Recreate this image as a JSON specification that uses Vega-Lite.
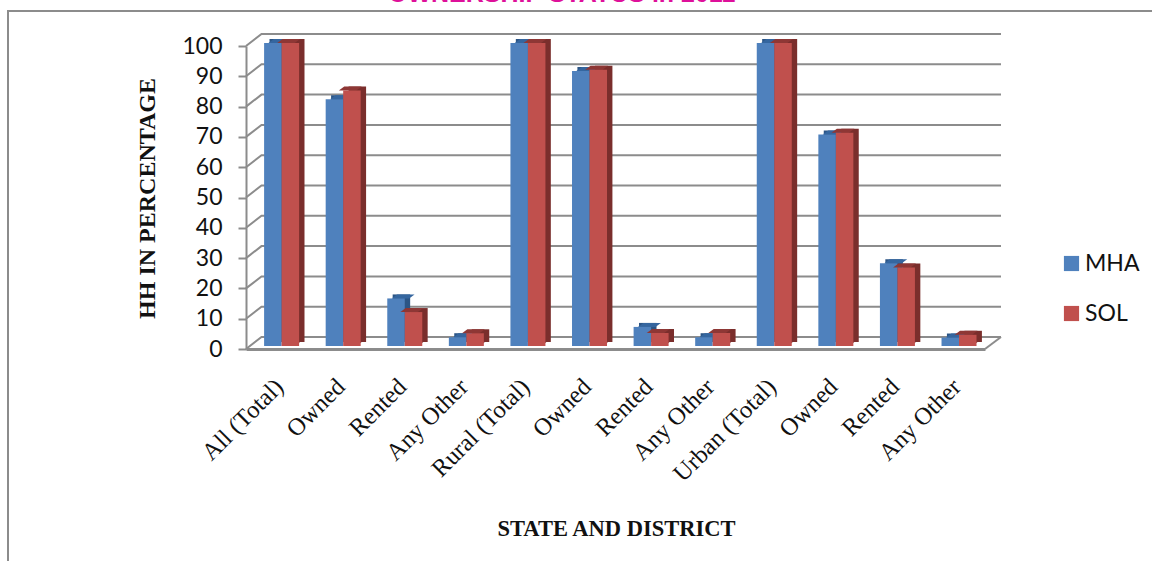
{
  "$schema": "https://vega.github.io/schema/vega-lite/v6.json",
  "autosize": {"type": "none"},
  "padding": {"left": 8, "top": 11, "right": 0, "bottom": 0},
  "width": 1146,
  "height": 552,
  "background": "white",
  "title": {
    "text": "OWNERSHIP STATUS in 2011",
    "anchor": "start",
    "dx": 380,
    "offset": 4,
    "font": "Liberation Sans",
    "fontSize": 25,
    "fontWeight": "bold",
    "color": "#DE109A"
  },
  "config": {
    "view": {"stroke": "#8C8C8C", "strokeWidth": 2}
  },
  "datasets": {
    "bars": [
      {"slot": "a1|All (Total)", "series": "MHA", "value": 100},
      {"slot": "a1|All (Total)", "series": "SOL", "value": 100},
      {"slot": "a2|Owned", "series": "MHA", "value": 81.4},
      {"slot": "a2|Owned", "series": "SOL", "value": 84.3},
      {"slot": "a3|Rented", "series": "MHA", "value": 15.7},
      {"slot": "a3|Rented", "series": "SOL", "value": 11.2},
      {"slot": "a4|Any Other", "series": "MHA", "value": 2.9},
      {"slot": "a4|Any Other", "series": "SOL", "value": 4.2},
      {"slot": "r1|Rural (Total)", "series": "MHA", "value": 100},
      {"slot": "r1|Rural (Total)", "series": "SOL", "value": 100},
      {"slot": "r2|Owned", "series": "MHA", "value": 90.8},
      {"slot": "r2|Owned", "series": "SOL", "value": 91.2},
      {"slot": "r3|Rented", "series": "MHA", "value": 6.3},
      {"slot": "r3|Rented", "series": "SOL", "value": 4.3},
      {"slot": "r4|Any Other", "series": "MHA", "value": 2.9},
      {"slot": "r4|Any Other", "series": "SOL", "value": 4.3},
      {"slot": "u1|Urban (Total)", "series": "MHA", "value": 100},
      {"slot": "u1|Urban (Total)", "series": "SOL", "value": 100},
      {"slot": "u2|Owned", "series": "MHA", "value": 69.8},
      {"slot": "u2|Owned", "series": "SOL", "value": 70.4},
      {"slot": "u3|Rented", "series": "MHA", "value": 27.3},
      {"slot": "u3|Rented", "series": "SOL", "value": 25.9},
      {"slot": "u4|Any Other", "series": "MHA", "value": 2.8},
      {"slot": "u4|Any Other", "series": "SOL", "value": 3.7}
    ],
    "levels": [
      {"level": 0}, {"level": 10}, {"level": 20}, {"level": 30}, {"level": 40}, {"level": 50},
      {"level": 60}, {"level": 70}, {"level": 80}, {"level": 90}, {"level": 100}
    ]
  },
  "resolve": {"scale": {"x": "shared", "y": "shared", "xOffset": "independent", "color": "shared"}},
  "layer": [
    {
      "data": {"name": "levels"},
      "mark": {"type": "point", "filled": false, "size": 400, "opacity": 1, "strokeWidth": 2, "stroke": "#8C8C8C",
        "shape": "M0 0L1.55 -1.2L75.5 -1.2"},
      "encoding": {
        "x": {"datum": "a1|All (Total)", "bandPosition": 0, "type": "nominal",
          "scale": {
            "domain": ["a1|All (Total)", "a2|Owned", "a3|Rented", "a4|Any Other", "r1|Rural (Total)", "r2|Owned", "r3|Rented", "r4|Any Other", "u1|Urban (Total)", "u2|Owned", "u3|Rented", "u4|Any Other"],
            "range": [238, 977],
            "paddingInner": 0,
            "paddingOuter": 0
          },
          "axis": {
            "orient": "bottom",
            "offset": -214,
            "title": "STATE AND DISTRICT",
            "titleFont": "Liberation Serif",
            "titleFontSize": 22.5,
            "titleFontWeight": "bold",
            "titleColor": "#111111",
            "titleX": 608,
            "titleY": 168,
            "labelExpr": "split(datum.label, '|')[1]",
            "labelAngle": -45,
            "labelAlign": "right",
            "labelBaseline": "middle",
            "labelFont": "Liberation Serif",
            "labelFontSize": 24.5,
            "labelColor": "#111111",
            "labelPadding": 34,
            "labelOffset": 3,
            "labelOverlap": false,
            "ticks": false,
            "grid": false,
            "domainColor": "#8C8C8C",
            "domainWidth": 3
          }
        },
        "y": {"field": "level", "type": "quantitative",
          "scale": {"domain": [0, 100], "range": [338, 35], "nice": false},
          "axis": {
            "orient": "left",
            "offset": -238,
            "values": [0, 10, 20, 30, 40, 50, 60, 70, 80, 90, 100],
            "title": "HH IN PERCENTAGE",
            "titleFont": "Liberation Serif",
            "titleFontSize": 24,
            "titleFontWeight": "bold",
            "titleColor": "#111111",
            "titleX": -87,
            "titleY": 187,
            "labelFont": "Lato",
            "labelFontSize": 23,
            "labelColor": "#111111",
            "labelPadding": 16,
            "tickSize": 8,
            "tickColor": "#8C8C8C",
            "tickWidth": 2,
            "domainColor": "#8C8C8C",
            "domainWidth": 2,
            "grid": false
          }
        }
      }
    },
    {
      "data": {"name": "levels"},
      "transform": [{"filter": "datum.level === 0"}],
      "mark": {"type": "point", "filled": false, "size": 400, "opacity": 1, "strokeWidth": 2, "stroke": "#8C8C8C",
        "shape": "M0 0L1.6 -1.2"},
      "encoding": {
        "x": {"datum": "u4|Any Other", "bandPosition": 1, "type": "nominal"},
        "y": {"field": "level", "type": "quantitative"}
      }
    },
    {
      "data": {"name": "bars"},
      "transform": [{"filter": "datum.series === 'MHA'"}],
      "encoding": {
        "x": {"field": "slot", "type": "nominal"},
        "y": {"field": "value", "type": "quantitative"}
      },
      "layer": [
        {"mark": {"type": "bar", "fill": "#2C5585", "yOffset": -7},
          "encoding": {"xOffset": {"field": "series", "type": "nominal",
            "scale": {"domain": ["MHA", "SOL"], "range": [23.5, 58.5], "paddingInner": 0, "paddingOuter": 0}}}},
        {"mark": {"type": "point", "filled": true, "size": 400, "opacity": 1, "fill": "#2C5585", "yOffset": -3,
          "shape": "M0.875 0L1.415 -0.4L0.875 -0.4Z"},
          "encoding": {
            "y": {"datum": 0, "type": "quantitative"},
            "xOffset": {"field": "series", "type": "nominal",
            "scale": {"domain": ["MHA", "SOL"], "range": [26.85, 44.35]}}}},
        {"mark": {"type": "point", "filled": true, "size": 400, "opacity": 1, "fill": "#35669F", "yOffset": -3,
          "shape": "M-0.875 0L0.875 0L1.415 -0.4L-0.335 -0.4Z"},
          "encoding": {"xOffset": {"field": "series", "type": "nominal",
            "scale": {"domain": ["MHA", "SOL"], "range": [26.85, 44.35]}}}},
        {"mark": {"type": "bar", "yOffset": -3},
          "encoding": {
            "xOffset": {"field": "series", "type": "nominal",
              "scale": {"domain": ["MHA", "SOL"], "range": [18.1, 53.1], "paddingInner": 0, "paddingOuter": 0}},
            "color": {"field": "series", "type": "nominal",
            "scale": {"domain": ["MHA", "SOL"], "range": ["#4F81BD", "#C0504D"]},
            "legend": {
              "orient": "none", "legendX": 1052, "legendY": 241, "title": null,
              "symbolType": "square", "symbolSize": 230, "symbolStrokeWidth": 0,
              "labelFont": "Lato", "labelFontSize": 23, "labelColor": "#111111",
              "labelOffset": 2, "rowPadding": 26
            }}}}
      ],
      "resolve": {"scale": {"xOffset": "independent"}}
    },
    {
      "data": {"name": "bars"},
      "transform": [{"filter": "datum.series === 'SOL'"}],
      "encoding": {
        "x": {"field": "slot", "type": "nominal"},
        "y": {"field": "value", "type": "quantitative"}
      },
      "layer": [
        {"mark": {"type": "bar", "fill": "#7A2E2C", "yOffset": -7},
          "encoding": {"xOffset": {"field": "series", "type": "nominal",
            "scale": {"domain": ["MHA", "SOL"], "range": [23.5, 58.5], "paddingInner": 0, "paddingOuter": 0}}}},
        {"mark": {"type": "point", "filled": true, "size": 400, "opacity": 1, "fill": "#7A2E2C", "yOffset": -3,
          "shape": "M0.875 0L1.415 -0.4L0.875 -0.4Z"},
          "encoding": {
            "y": {"datum": 0, "type": "quantitative"},
            "xOffset": {"field": "series", "type": "nominal",
            "scale": {"domain": ["MHA", "SOL"], "range": [26.85, 44.35]}}}},
        {"mark": {"type": "point", "filled": true, "size": 400, "opacity": 1, "fill": "#8E3735", "yOffset": -3,
          "shape": "M-0.875 0L0.875 0L1.415 -0.4L-0.335 -0.4Z"},
          "encoding": {"xOffset": {"field": "series", "type": "nominal",
            "scale": {"domain": ["MHA", "SOL"], "range": [26.85, 44.35]}}}},
        {"mark": {"type": "bar", "yOffset": -3},
          "encoding": {
            "xOffset": {"field": "series", "type": "nominal",
              "scale": {"domain": ["MHA", "SOL"], "range": [18.1, 53.1], "paddingInner": 0, "paddingOuter": 0}},
            "color": {"field": "series", "type": "nominal"}}}
      ],
      "resolve": {"scale": {"xOffset": "independent"}}
    }
  ]
}
